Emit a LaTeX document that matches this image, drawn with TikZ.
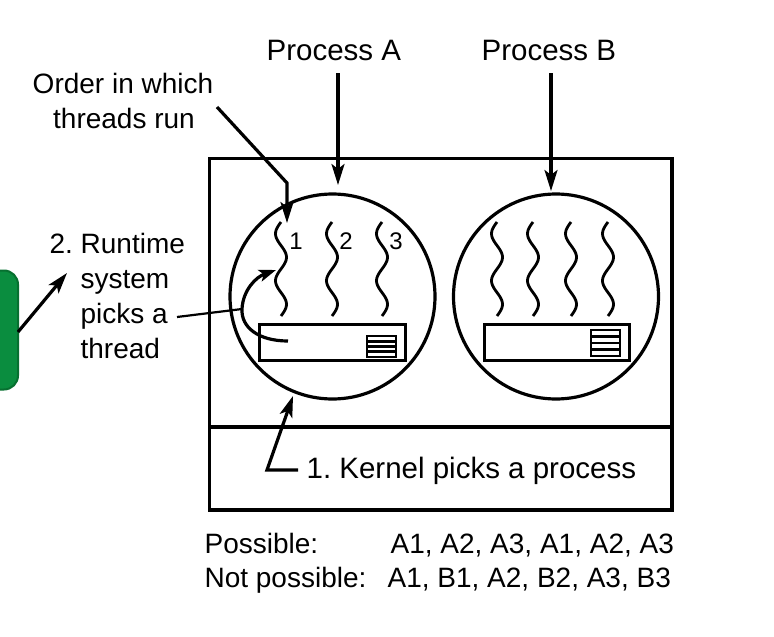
\documentclass[tikz,border=0pt]{standalone}
\usepackage{fontspec}
\setmainfont{Liberation Sans}
\usetikzlibrary{arrows.meta}
\definecolor{boxgreen}{HTML}{0A8D3F}
\definecolor{boxgreendark}{HTML}{077030}
\frenchspacing
\begin{document}
\begin{tikzpicture}[x=1pt,y=-1pt, line width=3.2pt,
  lbl/.style={inner sep=0pt, anchor=base west, font=\fontsize{28}{34}\selectfont},
  biglbl/.style={inner sep=0pt, anchor=base west, font=\fontsize{29.5}{34}\selectfont},
  num/.style={inner sep=0pt, anchor=base, font=\fontsize{24}{28}\selectfont},
  arr/.style={-{Stealth[length=21pt,width=13pt,inset=5pt]}},
  sarr/.style={-{Stealth[length=17pt,width=12pt,inset=4pt]}},
  proc/.style={draw, circle, minimum size=205pt, inner sep=0pt},
  stack/.style={line width=2.6pt},
  wave/.style={line width=2.8pt}]
\useasboundingbox (0,0) rectangle (774,637);

% green box at left edge
\node[draw=boxgreendark, fill=boxgreen, line width=2pt, rounded corners=14pt,
      minimum width=60pt, minimum height=119pt, inner sep=0pt] (green) at (-12,330) {};

% outer box
\draw (209.5,158.5) rectangle (672,510);
\draw (209.5,427) -- (672,427);

% processes
\node[proc] (pA) at (332.5,296.5) {};
\node[proc] (pB) at (556,296.5) {};

% thread tables
\draw (259.5,324.5) rectangle (405.5,360.5);
\draw[stack] (367,336) rectangle (396,357);
\foreach \yy in {341.25,346.5,351.75} \draw[stack] (367,\yy) -- (396,\yy);
\draw (484.5,324.5) rectangle (629.5,360.5);
\draw[stack] (591,330) rectangle (620,356);
\foreach \yy in {336.5,343,349.5} \draw[stack] (591,\yy) -- (620,\yy);

% threads
\foreach \cx in {281,332,382,497,533,571,608}
  \draw[wave] plot[smooth, domain=0:94, samples=48] ({\cx-5.5*sin(\x*7.6596)}, {222+\x});

\node[num] (n1) at (296,249) {1};
\node[num] (n2) at (346,249) {2};
\node[num] (n3) at (396,249) {3};

% labels
\node[biglbl] (procA) at (265,60) {Process A};
\node[biglbl] (procB) at (480,60) {Process B};
\node[inner sep=0pt, anchor=base, font=\fontsize{28}{34}\selectfont] (ord1) at (123,93) {Order in which};
\node[inner sep=0pt, anchor=base, font=\fontsize{28}{34}\selectfont] (ord2) at (124,128) {threads run};
\node[lbl] (rt1) at (48,253) {2. Runtime};
\node[lbl] (rt2) at (79,288) {system};
\node[lbl] (rt3) at (79,323) {picks a};
\node[lbl] (rt4) at (79,358) {thread};
\node[biglbl] (kern) at (305,478) {1. Kernel picks a process};
\node[lbl] (pos) at (203,553) {Possible:};
\node[lbl] (posv) at (389,553) {A1, A2, A3, A1, A2, A3};
\node[lbl] (npos) at (203,587) {Not possible:};
\node[lbl] (nposv) at (386,587) {A1, B1, A2, B2, A3, B3};

% coordinates for connector ends
\coordinate (aS) at (338,73);
\coordinate (aE) at (338,185);
\coordinate (bS) at (551,73);
\coordinate (bE) at (551,191);
\coordinate (oS) at (217,107);
\coordinate (oB) at (287,183);
\coordinate (oE) at (287,223);
\coordinate (cS) at (288,341);
\coordinate (cM) at (242,309);
\coordinate (cE) at (276,270);
\coordinate (rS) at (177,317);
\coordinate (gS) at (18,332);
\coordinate (gE) at (67,273);
\coordinate (kS) at (298,470);
\coordinate (kB) at (267,470);
\coordinate (kE) at (293,396);

% connectors
\draw[arr] (aS) -- (aE);
\draw[arr] (bS) -- (bE);
\draw[arr] (oS) -- (oB) -- (oE);
\draw[sarr] (cS) .. controls (258,341) and (241,327) .. (cM) .. controls (243,290) and (256,277) .. (cE);
\draw[line width=2.2pt] (rS) -- (cM);
\draw[arr] (gS) -- (gE);
\draw[arr] (kS) -- (kB) -- (kE);
\end{tikzpicture}
\end{document}
